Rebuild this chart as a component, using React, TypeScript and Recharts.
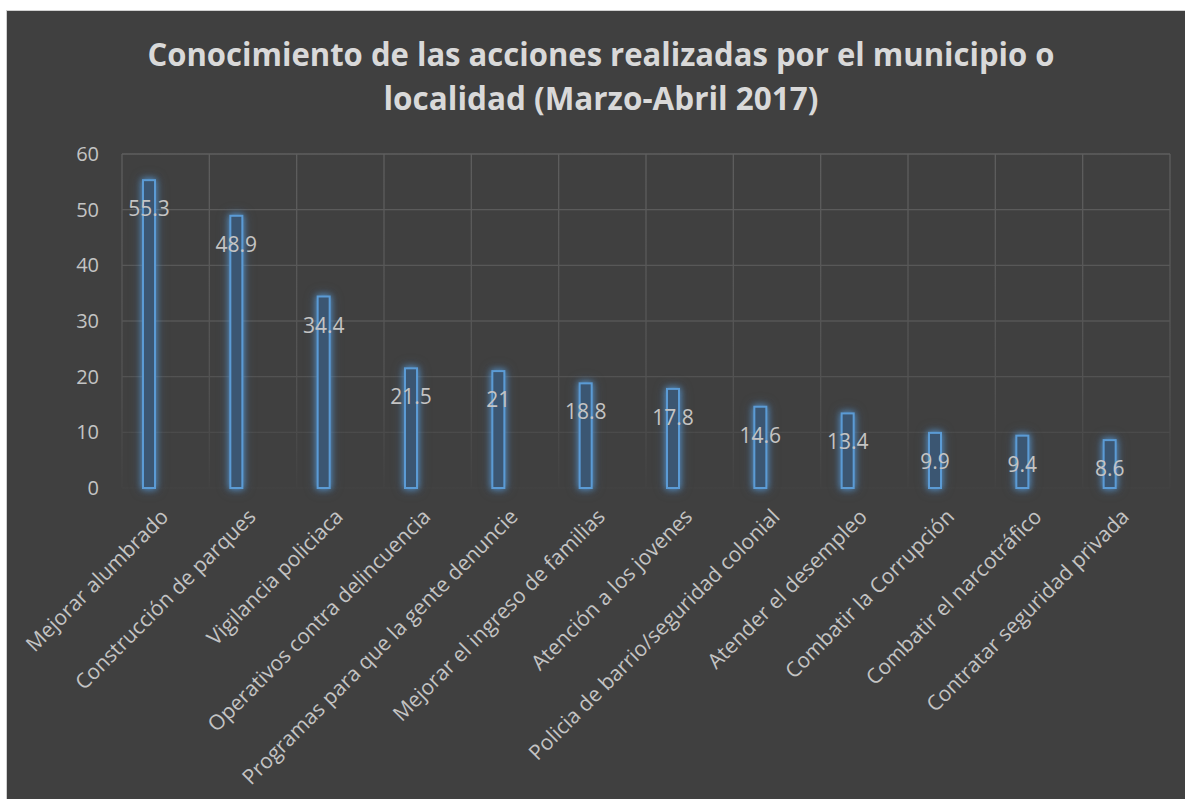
import { BarChart, Bar, XAxis, YAxis, CartesianGrid, LabelList } from 'recharts';

const TITLE_LINES = [
  'Conocimiento de las acciones realizadas por el municipio o',
  'localidad (Marzo-Abril 2017)',
];

const CATEGORIES = [
  'Mejorar alumbrado',
  'Construcción de parques',
  'Vigilancia policiaca',
  'Operativos contra delincuencia',
  'Programas para que la gente denuncie',
  'Mejorar el ingreso de familias',
  'Atención a los jovenes',
  'Policia de barrio/seguridad colonial',
  'Atender el desempleo',
  'Combatir la Corrupción',
  'Combatir el narcotráfico',
  'Contratar seguridad privada',
];

const VALUES = [55.3, 48.9, 34.4, 21.5, 21, 18.8, 17.8, 14.6, 13.4, 9.9, 9.4, 8.6];

const Y_TICKS = [0, 10, 20, 30, 40, 50, 60];

const chartData = CATEGORIES.map((name, i) => ({ name, value: VALUES[i] }));

const FRAME_W = 1179;
const FRAME_H = 789;
const TEXT_COLOR = '#c4c4c4';
const FONT = '"Open Sans", "DejaVu Sans", sans-serif';

function GlowBar(props: any) {
  const { x, y, width, height } = props;
  if (!height || height <= 0) return null;
  return (
    <rect
      x={x}
      y={y}
      width={width}
      height={height}
      fill="#3b5672"
      stroke="#5b9bd5"
      strokeWidth={2}
      style={{
        filter:
          'drop-shadow(0 0 3px rgba(91,155,213,0.8)) drop-shadow(0 0 5px rgba(70,130,190,0.5))',
      }}
    />
  );
}

function ValueLabel(props: any) {
  const { x, y, width, value } = props;
  return (
    <text
      x={x + width / 2}
      y={y + 28}
      textAnchor="middle"
      dominantBaseline="central"
      fill={TEXT_COLOR}
      fontSize={21}
      fontFamily={FONT}
    >
      {value}
    </text>
  );
}

function CategoryTick({ x, y, payload }: any) {
  return (
    <g transform={`translate(${x + 4},${y})`}>
      <text
        transform="rotate(-45)"
        textAnchor="end"
        fill={TEXT_COLOR}
        fontSize={21}
        fontFamily={FONT}
      >
        {payload.value}
      </text>
    </g>
  );
}

export default function App() {
  return (
    <div
      style={{
        position: 'absolute',
        left: 6,
        top: 10,
        width: FRAME_W,
        height: FRAME_H,
        background: '#404040',
        boxShadow: 'inset 1px 1px 0 #d0d0d0',
        overflow: 'hidden',
      }}
    >
      <svg width={0} height={0} style={{ position: 'absolute' }}>
        <defs>
          <linearGradient id="gridFade" gradientUnits="userSpaceOnUse" x1="0" y1="144" x2="0" y2="478">
            <stop offset="0%" stopColor="#5e5e5e" />
            <stop offset="70%" stopColor="#525252" />
            <stop offset="100%" stopColor="#424242" />
          </linearGradient>
        </defs>
      </svg>

      <svg width={FRAME_W} height={130} style={{ position: 'absolute', left: 0, top: 0 }}>
        {TITLE_LINES.map((line, i) => (
          <text
            key={i}
            x={595}
            y={i === 0 ? 56 : 100}
            textAnchor="middle"
            fill="#d9d9d9"
            fontSize={32}
            fontWeight={700}
            fontFamily={FONT}
            textLength={i === 0 ? 907 : 435}
            lengthAdjust="spacingAndGlyphs"
          >
            {line}
          </text>
        ))}
      </svg>

      <div style={{ position: 'absolute', left: 0, top: 0 }}>
        <BarChart
          width={FRAME_W}
          height={FRAME_H}
          data={chartData}
          margin={{ top: 144, right: 15, left: 0, bottom: 0 }}
          barSize={12}
          barGap={5}
        >
          <CartesianGrid
            stroke="url(#gridFade)"
            strokeWidth={1.3}
            verticalCoordinatesGenerator={({ offset }: any) =>
              CATEGORIES.map((_, i) => offset.left + (i * offset.width) / CATEGORIES.length).concat(
                offset.left + offset.width
              )
            }
          />
          <XAxis
            dataKey="name"
            interval={0}
            axisLine={false}
            tickLine={false}
            tickSize={0}
            tickMargin={30}
            height={FRAME_H - 478}
            tick={<CategoryTick />}
          />
          <YAxis
            domain={[0, 60]}
            ticks={Y_TICKS}
            axisLine={false}
            tickLine={false}
            width={116}
            tickMargin={17}
            tick={{ fill: TEXT_COLOR, fontSize: 20, fontFamily: FONT }}
          />
          <Bar dataKey="value" shape={<GlowBar />} isAnimationActive={false}>
            <LabelList dataKey="value" content={<ValueLabel />} />
          </Bar>
          <Bar dataKey="blankB" fill="none" isAnimationActive={false} />
          <Bar dataKey="blankC" fill="none" isAnimationActive={false} />
        </BarChart>
      </div>
    </div>
  );
}
